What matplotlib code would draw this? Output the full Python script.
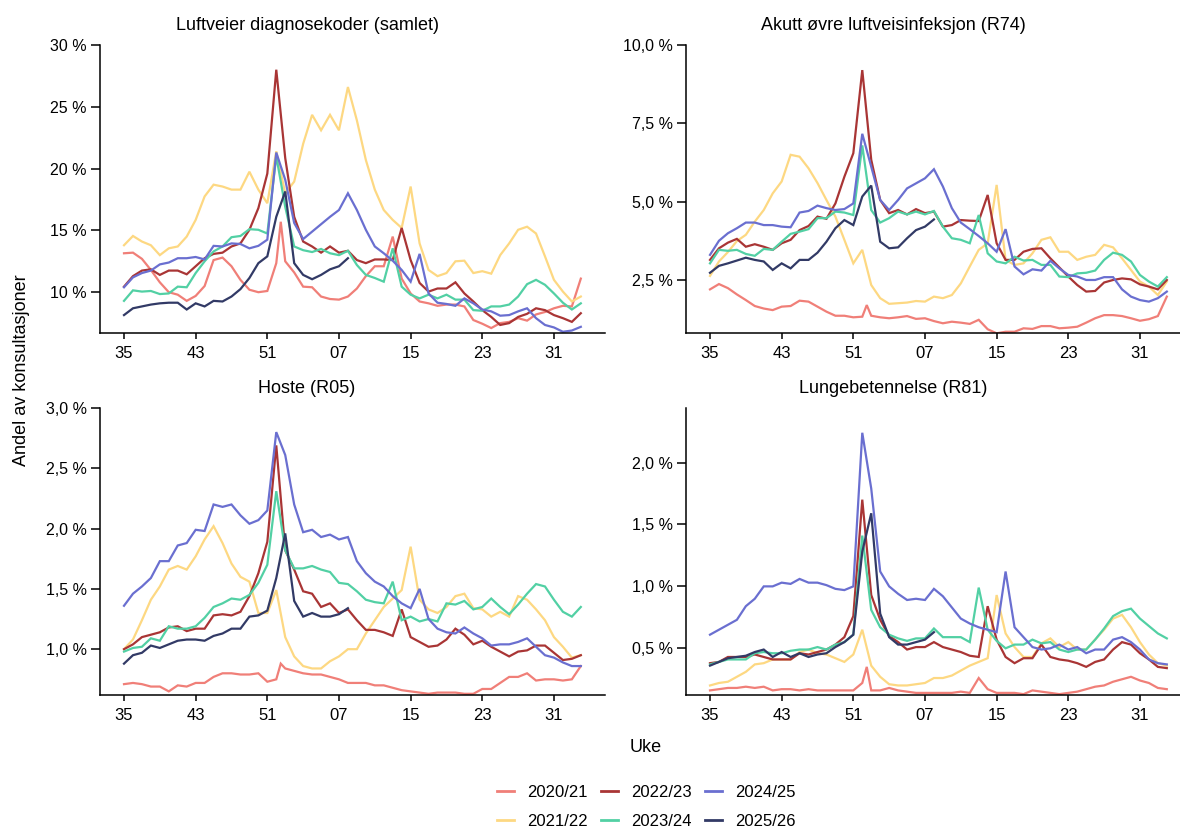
import matplotlib.pyplot as plt
from matplotlib.ticker import FuncFormatter
from matplotlib.lines import Line2D

plt.rcParams['font.family'] = ['Liberation Sans', 'DejaVu Sans']

# sesongen går fra uke 35 til uke 34 året etter; 2020/21 hadde uke 53
WEEKS = list(range(35, 53)) + list(range(1, 35))
WEEKS_53 = list(range(35, 54)) + list(range(1, 35))
TICK_WEEKS = [35, 43, 51, 7, 15, 23, 31]

SEASONS = ['2020/21', '2021/22', '2022/23', '2023/24', '2024/25', '2025/26']
COLORS = ['#F07F78', '#FDD882', '#A93535', '#52D0A4', '#6A6FD0', '#323A66']

# Luftveier diagnosekoder (samlet), andel i prosent
luft_2020 = [13.15, 13.2, 12.7, 11.8, 10.8, 10.0, 9.8, 9.3, 9.7, 10.5, 12.6, 12.8, 12.1, 11.0, 10.2, 10.0, 10.1,
             12.35, 15.7, 12.5, 11.6, 10.45, 10.4, 9.65, 9.45,
             9.4, 9.65, 10.3, 11.3, 12.1, 12.1, 14.5, 11.1, 9.9, 9.25, 9.1, 8.9, 9.0, 9.0, 8.85, 7.75, 7.45, 7.1,
             7.5, 7.6, 7.9, 7.7, 8.2, 8.4, 8.7, 8.9, 8.85, 11.1]
luft_2021 = [13.8, 14.55, 14.1, 13.8, 13.0, 13.55, 13.7, 14.5, 15.85, 17.75, 18.7, 18.55, 18.3, 18.3, 19.75, 18.3,
             17.2, 21.4, 18.0, 18.95, 22.0, 24.35, 23.1, 24.35, 23.1, 26.6, 23.9, 20.7, 18.3, 16.65, 15.85, 15.2,
             18.55, 13.95, 11.8, 11.3, 11.55, 12.5, 12.55, 11.55, 11.7, 11.5, 13.0, 13.95, 15.05, 15.3, 14.75, 12.9,
             11.0, 10.05, 9.25, 9.65]
luft_2022 = [10.45, 11.3, 11.75, 11.85, 11.4, 11.75, 11.75, 11.45, 12.1, 12.75, 13.1, 13.2, 13.7, 13.95, 15.05, 16.8,
             19.6, 28.0, 20.85, 16.1, 14.1, 13.7, 13.2, 13.7, 13.2, 13.35, 12.6, 12.35, 12.65, 12.65, 12.6, 15.2,
             12.6, 10.75, 10.05, 10.3, 10.3, 10.8, 9.9, 9.25, 8.55, 8.0, 7.35, 7.5, 8.0, 8.25, 8.7, 8.55, 8.15, 7.9,
             7.6, 8.3]
luft_2023 = [9.3, 10.15, 10.05, 10.1, 9.85, 9.9, 10.45, 10.4, 11.55, 12.5, 13.3, 13.7, 14.45, 14.55, 15.1, 15.05,
             14.75, 21.0, 16.9, 13.7, 13.4, 13.25, 13.5, 13.15, 13.0, 13.35, 12.2, 11.4, 11.15, 10.85, 13.55, 10.45,
             9.8, 9.5, 9.8, 9.5, 9.8, 9.4, 9.4, 8.55, 8.5, 8.85, 8.85, 9.0, 9.65, 10.65, 11.0, 10.6, 9.9, 9.15, 8.6,
             9.1]
luft_2024 = [10.4, 11.2, 11.55, 11.75, 12.25, 12.4, 12.75, 12.75, 12.85, 12.65, 13.75, 13.7, 13.95, 13.9, 13.55,
             13.75, 14.25, 21.3, 19.1, 15.6, 14.3, 14.9, 15.5, 16.1, 16.65, 18.0, 16.65, 15.05, 13.7, 13.15, 12.55,
             11.8, 10.85, 13.1, 9.9, 9.15, 9.05, 8.9, 9.5, 9.1, 8.6, 8.45, 8.1, 8.15, 8.45, 8.7, 7.9, 7.35, 7.15, 6.8,
             6.9, 7.2]
luft_2025 = [8.15, 8.7, 8.85, 9.0, 9.1, 9.15, 9.15, 8.6, 9.1, 8.85, 9.3, 9.25, 9.65, 10.25, 11.15, 12.35, 12.9,
             16.1, 18.15, 12.35, 11.4, 11.05, 11.4, 11.85, 12.1, 12.75]

# Akutt øvre luftveisinfeksjon (R74)
r74_2020 = [2.21, 2.38, 2.25, 2.05, 1.87, 1.68, 1.6, 1.55, 1.66, 1.68, 1.85, 1.82, 1.66, 1.5, 1.37, 1.37, 1.32,
            1.34, 1.71, 1.37, 1.32, 1.29, 1.32, 1.36, 1.27,
            1.29, 1.2, 1.13, 1.18, 1.15, 1.11, 1.24, 0.94, 0.81, 0.86, 0.86, 0.97, 0.95, 1.04, 1.04, 0.97, 0.99,
            1.02, 1.15, 1.29, 1.39, 1.39, 1.36, 1.29, 1.21, 1.26, 1.36, 1.98]
r74_2021 = [2.64, 3.1, 3.4, 3.75, 3.95, 4.37, 4.74, 5.27, 5.65, 6.5, 6.44, 6.07, 5.6, 5.06, 4.53, 3.79, 3.04, 3.47,
            2.35, 1.93, 1.75, 1.77, 1.79, 1.84, 1.82, 1.98, 1.93, 2.03, 2.4, 2.94, 3.47, 3.68, 5.54, 3.15, 2.99,
            3.04, 3.36, 3.79, 3.87, 3.41, 3.41, 3.15, 3.25, 3.31, 3.63, 3.55, 3.2, 2.83, 2.46, 2.3, 2.03, 2.46]
r74_2022 = [3.15, 3.52, 3.7, 3.82, 3.57, 3.65, 3.57, 3.47, 3.68, 3.79, 4.1, 4.23, 4.53, 4.46, 4.95, 5.8, 6.55, 9.2,
            6.34, 5.06, 4.64, 4.74, 4.6, 4.77, 4.64, 4.69, 4.21, 4.26, 4.42, 4.4, 4.39, 5.22, 3.68, 3.15, 3.15, 3.41,
            3.5, 3.52, 3.2, 2.91, 2.62, 2.35, 2.14, 2.16, 2.43, 2.51, 2.56, 2.53, 2.37, 2.3, 2.21, 2.51]
r74_2023 = [3.04, 3.47, 3.44, 3.47, 3.34, 3.28, 3.5, 3.47, 3.73, 3.98, 4.05, 4.13, 4.48, 4.48, 4.69, 4.66, 4.58, 6.8,
            4.74, 4.34, 4.48, 4.69, 4.6, 4.69, 4.6, 4.71, 4.21, 3.84, 3.79, 3.68, 4.58, 3.36, 3.1, 3.04, 3.25, 3.13,
            3.15, 2.99, 2.99, 2.62, 2.6, 2.72, 2.74, 2.81, 3.15, 3.38, 3.31, 3.1, 2.67, 2.46, 2.3, 2.6]
r74_2024 = [3.31, 3.76, 4.0, 4.16, 4.34, 4.34, 4.26, 4.26, 4.21, 4.19, 4.66, 4.71, 4.88, 4.8, 4.74, 4.77, 4.95, 7.17,
            6.12, 5.06, 4.74, 5.06, 5.43, 5.59, 5.75, 6.04, 5.49, 4.8, 4.34, 4.13, 3.91, 3.68, 3.41, 4.13, 2.94, 2.69,
            2.85, 2.81, 3.12, 2.88, 2.67, 2.62, 2.51, 2.51, 2.6, 2.6, 2.21, 1.98, 1.87, 1.82, 1.93, 2.14]
r74_2025 = [2.74, 2.96, 3.04, 3.13, 3.22, 3.15, 3.1, 2.83, 3.04, 2.88, 3.15, 3.15, 3.38, 3.73, 4.16, 4.42, 4.26,
            5.17, 5.52, 3.73, 3.52, 3.55, 3.84, 4.1, 4.21, 4.44]

# Hoste (R05)
r05_2020 = [0.71, 0.72, 0.71, 0.69, 0.69, 0.65, 0.70, 0.69, 0.72, 0.72, 0.77, 0.8, 0.8, 0.79, 0.79, 0.8, 0.73,
            0.75, 0.88, 0.84, 0.82, 0.8, 0.79, 0.79, 0.77,
            0.75, 0.72, 0.72, 0.72, 0.7, 0.7, 0.68, 0.66, 0.65, 0.64, 0.63, 0.64, 0.64, 0.64, 0.63, 0.63, 0.67,
            0.67, 0.72, 0.77, 0.77, 0.8, 0.74, 0.75, 0.75, 0.74, 0.75, 0.86]
r05_2021 = [1.0, 1.08, 1.24, 1.41, 1.52, 1.66, 1.69, 1.66, 1.77, 1.91, 2.02, 1.88, 1.71, 1.6, 1.56, 1.3, 1.3, 1.49,
            1.1, 0.94, 0.86, 0.84, 0.84, 0.9, 0.94, 1.0, 1.0, 1.13, 1.24, 1.35, 1.42, 1.49, 1.85, 1.41, 1.33, 1.3,
            1.35, 1.44, 1.46, 1.34, 1.33, 1.27, 1.31, 1.27, 1.44, 1.41, 1.33, 1.24, 1.1, 1.02, 0.93, 0.95]
r05_2022 = [1.0, 1.04, 1.1, 1.12, 1.14, 1.18, 1.19, 1.15, 1.17, 1.17, 1.28, 1.29, 1.28, 1.31, 1.44, 1.63, 1.89, 2.69,
            1.82, 1.66, 1.48, 1.46, 1.35, 1.38, 1.3, 1.33, 1.24, 1.16, 1.16, 1.14, 1.11, 1.33, 1.1, 1.06, 1.02, 1.03,
            1.08, 1.17, 1.12, 1.04, 1.07, 1.02, 0.98, 0.94, 0.98, 0.99, 1.03, 1.03, 0.97, 0.91, 0.92, 0.95]
r05_2023 = [0.98, 1.01, 1.02, 1.09, 1.07, 1.19, 1.17, 1.17, 1.19, 1.26, 1.35, 1.38, 1.42, 1.41, 1.45, 1.55, 1.7,
            2.31, 1.82, 1.67, 1.67, 1.69, 1.66, 1.64, 1.55, 1.54, 1.48, 1.41, 1.39, 1.38, 1.56, 1.24, 1.27, 1.23,
            1.25, 1.23, 1.38, 1.37, 1.4, 1.33, 1.35, 1.42, 1.35, 1.29, 1.37, 1.46, 1.54, 1.52, 1.41, 1.31, 1.27, 1.35]
r05_2024 = [1.36, 1.46, 1.52, 1.59, 1.73, 1.73, 1.86, 1.88, 1.99, 1.98, 2.2, 2.18, 2.2, 2.11, 2.04, 2.07, 2.15, 2.8,
            2.61, 2.2, 1.97, 1.99, 1.93, 1.95, 1.91, 1.93, 1.73, 1.63, 1.56, 1.52, 1.44, 1.38, 1.34, 1.5, 1.25, 1.17,
            1.14, 1.13, 1.18, 1.13, 1.09, 1.03, 1.04, 1.04, 1.06, 1.09, 1.02, 0.95, 0.93, 0.89, 0.86, 0.86]
r05_2025 = [0.88, 0.95, 0.97, 1.03, 1.01, 1.04, 1.07, 1.08, 1.08, 1.07, 1.11, 1.13, 1.17, 1.17, 1.27, 1.28, 1.32,
            1.59, 1.96, 1.4, 1.27, 1.3, 1.27, 1.27, 1.29, 1.34]

# Lungebetennelse (R81)
r81_2020 = [0.16, 0.17, 0.18, 0.18, 0.19, 0.18, 0.19, 0.16, 0.17, 0.17, 0.16, 0.17, 0.16, 0.16, 0.16, 0.16, 0.16,
            0.22, 0.35, 0.16, 0.16, 0.18, 0.16, 0.15, 0.14,
            0.14, 0.14, 0.14, 0.14, 0.15, 0.14, 0.26, 0.17, 0.14, 0.14, 0.14, 0.13, 0.16, 0.15, 0.14, 0.13, 0.14,
            0.15, 0.17, 0.19, 0.2, 0.23, 0.25, 0.27, 0.24, 0.22, 0.18, 0.17]
r81_2021 = [0.2, 0.22, 0.23, 0.27, 0.31, 0.37, 0.38, 0.41, 0.41, 0.41, 0.47, 0.49, 0.46, 0.45, 0.42, 0.39, 0.45,
            0.65, 0.36, 0.27, 0.21, 0.2, 0.2, 0.21, 0.22, 0.26, 0.26, 0.28, 0.32, 0.36, 0.39, 0.42, 0.93, 0.62, 0.51,
            0.43, 0.43, 0.54, 0.58, 0.51, 0.55, 0.49, 0.49, 0.57, 0.65, 0.74, 0.77, 0.67, 0.55, 0.45, 0.38, 0.36]
r81_2022 = [0.38, 0.39, 0.43, 0.43, 0.43, 0.45, 0.43, 0.41, 0.41, 0.41, 0.46, 0.45, 0.47, 0.49, 0.53, 0.59, 0.76,
            1.7, 0.93, 0.73, 0.6, 0.55, 0.49, 0.51, 0.51, 0.55, 0.51, 0.49, 0.47, 0.44, 0.43, 0.84, 0.57, 0.43, 0.38,
            0.42, 0.42, 0.53, 0.43, 0.41, 0.4, 0.38, 0.35, 0.39, 0.41, 0.49, 0.55, 0.53, 0.46, 0.41, 0.35, 0.34]
r81_2023 = [0.37, 0.39, 0.41, 0.41, 0.41, 0.46, 0.47, 0.46, 0.46, 0.48, 0.49, 0.49, 0.51, 0.49, 0.53, 0.55, 0.61,
            1.41, 0.81, 0.67, 0.61, 0.58, 0.56, 0.58, 0.58, 0.66, 0.59, 0.59, 0.59, 0.55, 0.99, 0.65, 0.56, 0.5,
            0.53, 0.53, 0.57, 0.54, 0.55, 0.49, 0.47, 0.49, 0.49, 0.57, 0.66, 0.76, 0.8, 0.82, 0.74, 0.68, 0.62, 0.58]
r81_2024 = [0.61, 0.65, 0.69, 0.73, 0.84, 0.9, 1.0, 1.0, 1.03, 1.02, 1.06, 1.03, 1.03, 1.01, 0.98, 0.97, 1.0, 2.24,
            1.79, 1.12, 1.0, 0.94, 0.89, 0.9, 0.89, 0.98, 0.92, 0.83, 0.74, 0.7, 0.67, 0.65, 0.63, 1.12, 0.67, 0.59,
            0.51, 0.49, 0.5, 0.53, 0.49, 0.51, 0.46, 0.49, 0.49, 0.57, 0.59, 0.55, 0.49, 0.41, 0.38, 0.37]
r81_2025 = [0.36, 0.39, 0.42, 0.43, 0.44, 0.47, 0.49, 0.43, 0.47, 0.43, 0.46, 0.43, 0.45, 0.46, 0.51, 0.55, 0.61,
            1.28, 1.59, 0.78, 0.59, 0.53, 0.53, 0.55, 0.57, 0.63]

PANELS = [
    ('Luftveier diagnosekoder (samlet)', [luft_2020, luft_2021, luft_2022, luft_2023, luft_2024, luft_2025],
     [10, 15, 20, 25, 30], (6.7, 30), 0),
    ('Akutt øvre luftveisinfeksjon (R74)', [r74_2020, r74_2021, r74_2022, r74_2023, r74_2024, r74_2025],
     [2.5, 5.0, 7.5, 10.0], (0.82, 10.0), 1),
    ('Hoste (R05)', [r05_2020, r05_2021, r05_2022, r05_2023, r05_2024, r05_2025],
     [1.0, 1.5, 2.0, 2.5, 3.0], (0.62, 3.0), 1),
    ('Lungebetennelse (R81)', [r81_2020, r81_2021, r81_2022, r81_2023, r81_2024, r81_2025],
     [0.5, 1.0, 1.5, 2.0], (0.123, 2.44), 1),
]


def week_pos(w):
    # uke 53 legges mellom uke 52 og uke 1
    if w == 53:
        return 17.5
    return w - 35 if w >= 35 else w + 17


def pct_fmt(decimals):
    return FuncFormatter(lambda v, p: ('{:.%df} %%' % decimals).format(v).replace('.', ','))


W, H = 1180, 830
fig = plt.figure(figsize=(11.8, 8.3), dpi=100)

# (venstre, topp, bredde, høyde) i piksler
boxes = [(100, 45, 505, 288), (686, 45, 505, 288), (100, 408, 505, 287), (686, 408, 505, 287)]
title_x = [307, 893, 307, 893]
title_y = [25, 25, 388, 388]

for k, (title, series, yticks, ylim, dec) in enumerate(PANELS):
    l, t, w, h = boxes[k]
    ax = fig.add_axes([l / W, 1 - (t + h) / H, w / W, h / H])
    for s, vals in enumerate(series):
        weeks = WEEKS_53 if len(vals) == 53 else WEEKS[:len(vals)]
        x = [week_pos(wk) for wk in weeks]
        ax.plot(x, vals, color=COLORS[s], lw=1.6, solid_joinstyle='miter')
    ax.set_xlim(-2.68, 53.7)
    ax.set_ylim(*ylim)
    ax.set_xticks([week_pos(wk) for wk in TICK_WEEKS])
    ax.set_xticklabels(['%02d' % wk for wk in TICK_WEEKS])
    ax.set_yticks(yticks)
    ax.yaxis.set_major_formatter(pct_fmt(dec))
    for side in ('top', 'right'):
        ax.spines[side].set_visible(False)
    for side in ('left', 'bottom'):
        ax.spines[side].set_linewidth(1.1)
    ax.tick_params(axis='y', length=6.5, width=1.1, pad=3, labelsize=11.5)
    ax.tick_params(axis='x', length=4, width=1.1, pad=5, labelsize=12)
    fig.text(title_x[k] / W, 1 - title_y[k] / H, title, ha='center', va='center', fontsize=13)

fig.text(22 / W, 1 - 370 / H, 'Andel av konsultasjoner', rotation=90, ha='center', va='center', fontsize=13)
fig.text(646 / W, 1 - 748 / H, 'Uke', ha='center', va='center', fontsize=13)

handles = [Line2D([0], [0], color=c, lw=2) for c in COLORS]
fig.legend(handles, SEASONS, ncol=3, loc='center', bbox_to_anchor=(646 / W, 1 - 807 / H),
           frameon=False, fontsize=12, handlelength=1.05, handletextpad=0.75,
           columnspacing=0.8, labelspacing=0.85)

fig.savefig('out.png', dpi=100)
